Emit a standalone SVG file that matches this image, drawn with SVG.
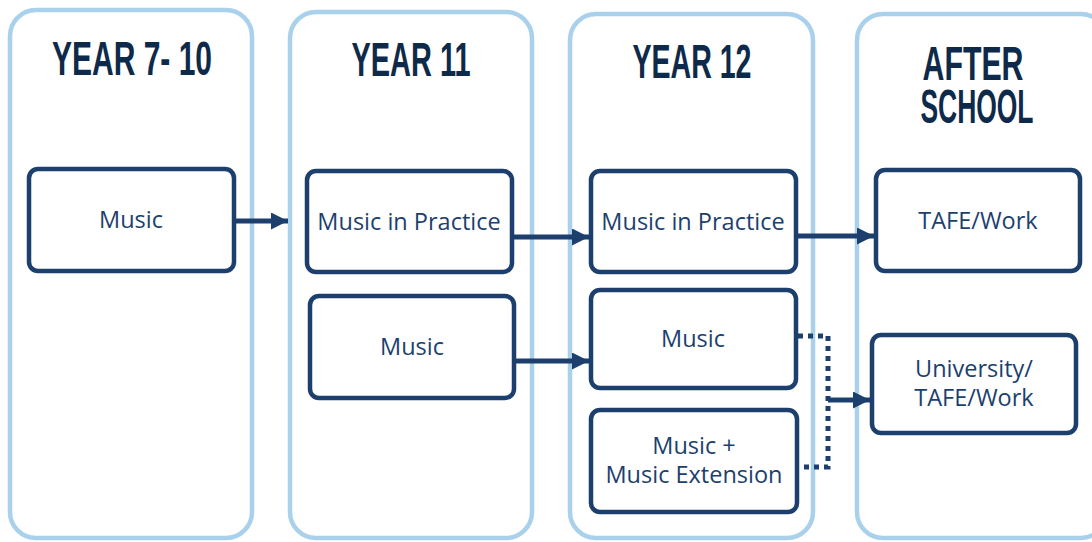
<svg xmlns="http://www.w3.org/2000/svg" width="1092" height="542" viewBox="0 0 1092 542">
<style>
.col{fill:#fff;stroke:#a9d1ec;stroke-width:4.5}
.node{fill:#fff;stroke:#1d3f6e;stroke-width:4.5}
.title{font-family:"Liberation Sans",Arial,sans-serif;font-weight:bold;font-size:48px;fill:#0e2a4a;text-anchor:middle}
.lbl{font-family:"Open Sans","Noto Sans",sans-serif;font-size:23.5px;fill:#1d3f6e;text-anchor:middle}
.arr{stroke:#1d3f6e;stroke-width:5;fill:none}
.dot{stroke:#1d3f6e;stroke-width:5;fill:none;stroke-dasharray:5 5}
</style>
<defs>
<marker id="ah" viewBox="0 0 10 10" refX="10" refY="5" markerWidth="3.6" markerHeight="3.4" markerUnits="strokeWidth" orient="auto">
<path d="M0,0 L10,5 L0,10 Z" fill="#1d3f6e"/>
</marker>
</defs>
<g id="columns">
<g id="col-y710"><rect class="col" x="10" y="10" width="242" height="528" rx="26"/>
<text class="title" x="132" y="75" textLength="160" lengthAdjust="spacingAndGlyphs">YEAR 7- 10</text></g>
<g id="col-y11"><rect class="col" x="290" y="12" width="242" height="526" rx="26"/>
<text class="title" x="411" y="76" textLength="119" lengthAdjust="spacingAndGlyphs">YEAR 11</text></g>
<g id="col-y12"><rect class="col" x="570" y="14" width="243" height="524" rx="26"/>
<text class="title" x="692" y="78" textLength="119" lengthAdjust="spacingAndGlyphs">YEAR 12</text></g>
<g id="col-after"><rect class="col" x="857" y="14" width="250" height="524" rx="26"/>
<text class="title" x="973" y="80" textLength="101" lengthAdjust="spacingAndGlyphs">AFTER</text>
<text class="title" x="977" y="123" textLength="113" lengthAdjust="spacingAndGlyphs">SCHOOL</text></g>
</g>
<g id="connectors">
<line class="arr" x1="234" y1="221" x2="288" y2="221" marker-end="url(#ah)"/>
<line class="arr" x1="512" y1="237" x2="589" y2="237" marker-end="url(#ah)"/>
<line class="arr" x1="514" y1="361" x2="589" y2="361" marker-end="url(#ah)"/>
<line class="arr" x1="796" y1="236" x2="874" y2="236" marker-end="url(#ah)"/>
<path class="dot" d="M798,336 H828 V467 H798"/>
<line class="arr" x1="828" y1="400" x2="870" y2="400" marker-end="url(#ah)"/>
</g>
<g id="n-music1"><rect class="node" x="29" y="169" width="205" height="102" rx="9"/><text class="lbl" x="131" y="228">Music</text></g>
<g id="n-mip11"><rect class="node" x="307" y="171" width="205" height="101" rx="9"/><text class="lbl" x="409" y="230">Music in Practice</text></g>
<g id="n-music11"><rect class="node" x="310" y="296" width="204" height="102" rx="9"/><text class="lbl" x="412" y="355">Music</text></g>
<g id="n-mip12"><rect class="node" x="591" y="171" width="205" height="101" rx="9"/><text class="lbl" x="693" y="230">Music in Practice</text></g>
<g id="n-music12"><rect class="node" x="591" y="290" width="205" height="98" rx="9"/><text class="lbl" x="693" y="347">Music</text></g>
<g id="n-ext"><rect class="node" x="591" y="410" width="206" height="102" rx="9"/><text class="lbl" x="694" y="454">Music +</text><text class="lbl" x="694" y="483">Music Extension</text></g>
<g id="n-tafe"><rect class="node" x="876" y="170" width="204" height="101" rx="9"/><text class="lbl" x="978" y="229">TAFE/Work</text></g>
<g id="n-uni"><rect class="node" x="872" y="335" width="204" height="98" rx="9"/><text class="lbl" x="974" y="377">University/</text><text class="lbl" x="974" y="406">TAFE/Work</text></g>
</svg>
